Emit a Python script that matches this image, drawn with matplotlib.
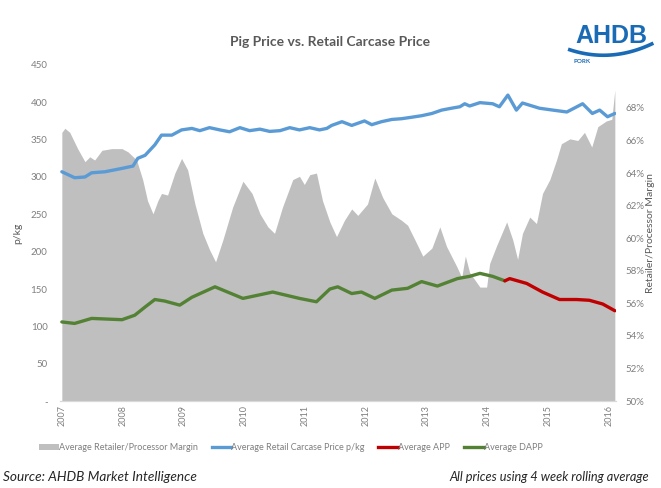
"""
Pig price vs. retail carcase price (AHDB), rebuilt with matplotlib.
"""

import numpy as np
import matplotlib
matplotlib.use('Agg')
import matplotlib.pyplot as plt
from matplotlib.patches import Patch
from matplotlib.lines import Line2D

# Average retailer/processor margin (%), right axis
margin_year = [2007.00, 2007.05, 2007.13, 2007.26, 2007.38, 2007.46, 2007.54, 2007.66,
               2007.82, 2007.99, 2008.09, 2008.23, 2008.33, 2008.41, 2008.50, 2008.58,
               2008.64, 2008.74, 2008.86, 2008.97, 2009.07, 2009.19, 2009.32, 2009.43,
               2009.53, 2009.65, 2009.81, 2009.98, 2010.13, 2010.26, 2010.39, 2010.50,
               2010.63, 2010.80, 2010.91, 2010.99, 2011.08, 2011.19, 2011.29, 2011.41,
               2011.52, 2011.65, 2011.77, 2011.87, 2012.03, 2012.15, 2012.28, 2012.43,
               2012.59, 2012.69, 2012.81, 2012.94, 2013.09, 2013.22, 2013.33, 2013.50,
               2013.58, 2013.64, 2013.71, 2013.88, 2013.99, 2014.04, 2014.15, 2014.32,
               2014.42, 2014.50, 2014.58, 2014.70, 2014.81, 2014.91, 2015.03, 2015.14,
               2015.22, 2015.36, 2015.49, 2015.60, 2015.72, 2015.82, 2015.96, 2016.05,
               2016.10]
margin_pct = [66.5, 66.75, 66.5, 65.5, 64.7, 65.0, 64.8, 65.4,
              65.5, 65.5, 65.3, 64.8, 63.6, 62.3, 61.5, 62.3,
              62.75, 62.65, 64.0, 64.9, 64.2, 62.1, 60.3, 59.3,
              58.55, 59.9, 61.9, 63.5, 62.75, 61.5, 60.7, 60.3,
              61.9, 63.6, 63.8, 63.3, 63.9, 64.0, 62.3, 61.0,
              60.1, 61.1, 61.8, 61.4, 62.1, 63.7, 62.5, 61.5,
              61.1, 60.8, 59.9, 58.9, 59.4, 60.7, 59.5, 58.25,
              57.6, 58.9, 57.9, 57.0, 57.0, 58.45, 59.5, 61.0,
              59.9, 58.7, 60.3, 61.3, 60.9, 62.75, 63.6, 64.8,
              65.8, 66.1, 66.0, 66.5, 65.6, 66.85, 67.2, 67.3,
              69.1]

# Average retail carcase price (p/kg)
retail_year = [2007.00, 2007.21, 2007.38, 2007.49, 2007.71, 2007.99, 2008.17, 2008.25,
               2008.37, 2008.53, 2008.64, 2008.81, 2008.97, 2009.14, 2009.27, 2009.43,
               2009.60, 2009.76, 2009.93, 2010.09, 2010.26, 2010.42, 2010.59, 2010.75,
               2010.91, 2011.08, 2011.24, 2011.36, 2011.44, 2011.61, 2011.77, 2011.98,
               2012.10, 2012.26, 2012.43, 2012.59, 2012.76, 2012.92, 2013.09, 2013.25,
               2013.41, 2013.55, 2013.63, 2013.71, 2013.88, 2014.09, 2014.20, 2014.34,
               2014.48, 2014.58, 2014.86, 2015.08, 2015.31, 2015.57, 2015.73, 2015.85,
               2015.98, 2016.10]
retail_price = [307, 299, 300, 305.6, 307, 311.5, 314.6, 325,
                329, 343, 356, 356, 363, 365, 362, 366,
                363, 360.5, 366, 362, 364, 361, 362, 366,
                363, 366, 363, 365, 369, 374, 369, 375,
                370, 374, 377, 378, 380, 382, 385, 389.5,
                392, 394, 398, 395, 399.5, 398, 394, 409.6,
                389.5, 399, 392, 389.5, 387, 398, 385, 389.5,
                380.6, 385]

# Average DAPP (p/kg)
dapp_year = [2007.00, 2007.21, 2007.49, 2007.99, 2008.20, 2008.37, 2008.53, 2008.69,
             2008.94, 2009.14, 2009.52, 2009.98, 2010.47, 2010.91, 2011.19, 2011.41,
             2011.54, 2011.77, 2011.93, 2012.15, 2012.43, 2012.69, 2012.92, 2013.18,
             2013.51, 2013.71, 2013.88, 2014.09, 2014.29]
dapp_price = [106, 104, 110.7, 109, 115, 126, 136, 134,
              128.5, 139, 153, 137.5, 146, 137.5, 133, 150,
              153, 144, 146, 137.5, 148.6, 151, 160, 154,
              164, 167, 171, 167, 161]

# Average APP (p/kg)
app_year = [2014.29, 2014.37, 2014.65, 2014.91, 2015.19, 2015.47, 2015.68, 2015.90, 2016.10]
app_price = [161, 164, 157.5, 146, 136, 136, 135, 130, 121]

years = list(range(2007, 2017))
left_ticks = list(range(0, 451, 50))
left_labels = ['-'] + [str(v) for v in left_ticks[1:]]
right_ticks = list(range(50, 69, 2))
right_labels = ['%d%%' % v for v in right_ticks]

FONT = ['Lato', 'DejaVu Sans']
GRAY_TXT = '#7f7f7f'
LOGO_BLUE = '#1a6bb5'
plt.rcParams['font.family'] = FONT


def main():
    fig = plt.figure(figsize=(6.61, 4.88), dpi=100)
    ax = fig.add_axes([0.0908, 0.178, 0.8412, 0.689])
    ax2 = ax.twinx()
    ax.set_zorder(ax2.get_zorder() + 1)
    ax.patch.set_visible(False)

    ax2.fill_between(margin_year, 50, margin_pct, color='#bfbfbf', linewidth=0)
    ax.plot(retail_year, retail_price, color='#5b9bd5', lw=2.4, solid_capstyle='round')
    ax.plot(dapp_year, dapp_price, color='#548235', lw=2.4, solid_capstyle='round')
    ax.plot(app_year, app_price, color='#c00000', lw=2.4, solid_capstyle='round')

    ax.set_xlim(2006.97, 2016.12)
    ax.set_ylim(0, 450)
    ax2.set_ylim(50, 70.64)

    ax.set_xticks(years)
    ax.set_xticklabels([str(y) for y in years], rotation=90, fontsize=6.5, color=GRAY_TXT)
    ax.set_yticks(left_ticks)
    ax.set_yticklabels(left_labels, fontsize=7, color=GRAY_TXT)
    ax2.set_yticks(right_ticks)
    ax2.set_yticklabels(right_labels, fontsize=7, color=GRAY_TXT)
    ax.tick_params(axis='y', length=0, pad=9)
    ax.tick_params(axis='x', length=0, pad=3)
    ax2.tick_params(axis='y', length=0, pad=7)

    for a in (ax, ax2):
        for s in ('top', 'left', 'right'):
            a.spines[s].set_visible(False)
        a.spines['bottom'].set_color('#d9d9d9')

    ax.set_ylabel('p/kg', fontsize=7.5, color='#595959', labelpad=6)
    ax2.set_ylabel('Retailer/Processor Margin', fontsize=7.5, color='#595959', labelpad=1)

    fig.text(0.5, 0.913, 'Pig Price vs. Retail Carcase Price', ha='center', va='center',
             fontsize=10, fontweight='bold', color='#595959')

    handles = [Patch(facecolor='#bfbfbf', edgecolor='none'),
               Line2D([], [], color='#5b9bd5', lw=2.4),
               Line2D([], [], color='#c00000', lw=2.4),
               Line2D([], [], color='#548235', lw=2.4)]
    labels = ['Average Retailer/Processor Margin', 'Average Retail Carcase Price p/kg',
              'Average APP', 'Average DAPP']
    leg = fig.legend(handles, labels, loc='center', bbox_to_anchor=(0.44, 0.082), ncol=4,
                     frameon=False, fontsize=6.5, handlelength=2.2, handletextpad=0.0,
                     columnspacing=1.5)
    for t in leg.get_texts():
        t.set_color(GRAY_TXT)

    fig.text(0.004, 0.01, 'Source: AHDB Market Intelligence', fontsize=9.8, style='italic',
             color='#262626', ha='left', va='bottom')
    fig.text(0.68, 0.01, 'All prices using 4 week rolling average', fontsize=9.2,
             style='italic', color='#262626', ha='left', va='bottom')

    # AHDB logo
    fig.text(0.925, 0.926, 'AHDB', fontsize=18, fontweight='bold', color=LOGO_BLUE,
             ha='center', va='center', family=['Liberation Sans', 'DejaVu Sans'])
    t = np.linspace(0, 1, 60)
    fig.add_artist(Line2D(0.862 + 0.124 * t, 0.898 - 0.0548 * t + 0.0668 * t ** 2,
                          color=LOGO_BLUE, lw=2.6, transform=fig.transFigure))
    fig.text(0.868, 0.873, 'PORK', fontsize=4.5, fontweight='bold', color=LOGO_BLUE,
             ha='left', va='center')

    fig.savefig('out.png', dpi=100)


if __name__ == '__main__':
    main()
